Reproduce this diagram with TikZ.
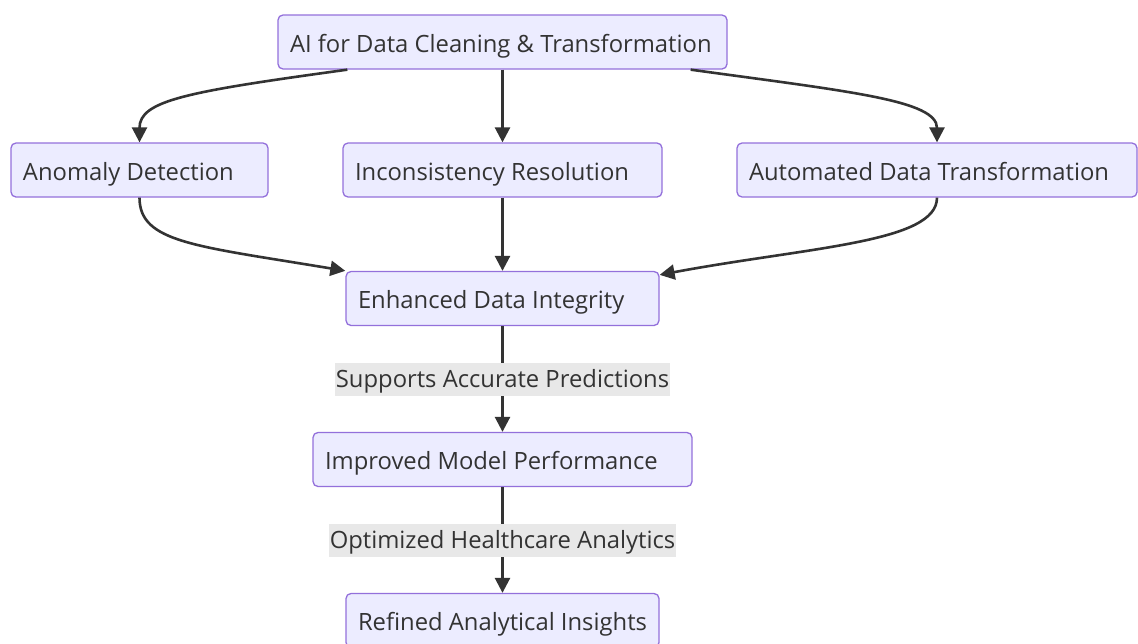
\documentclass[tikz,border=0pt]{standalone}
\usepackage{fontspec}
\setmainfont{Open Sans}
\usetikzlibrary{arrows.meta,calc}
\definecolor{nodefill}{HTML}{ECECFF}
\definecolor{nodeborder}{HTML}{9370DB}
\definecolor{ink}{HTML}{333333}
\definecolor{lblbg}{HTML}{E8E8E8}
\newcommand{\lefttext}[2]{\makebox[#1][l]{#2}}
\tikzset{
  box/.style={draw=nodeborder, fill=nodefill, line width=1.3pt, rounded corners=5pt,
    minimum height=54pt, inner xsep=12pt, inner ysep=0pt,
    text height=21pt, text depth=1pt,
    font=\fontsize{23.8}{28}\selectfont, text=ink},
  arr/.style={draw=ink, line width=2.6pt, -{Triangle[length=15pt,width=15pt]}},
  lbl/.style={fill=lblbg, inner xsep=1pt, inner ysep=5pt, text height=20pt, text depth=3pt,
    font=\fontsize{23.8}{28}\selectfont, text=ink}
}
\begin{document}
\begin{tikzpicture}[x=1pt,y=-1pt]
\useasboundingbox (0,0) rectangle (1138,643);
\node[box] (top) at (502.5,42) {\lefttext{425pt}{AI for Data Cleaning \& Transformation}};
\node[box] (anom) at (139.5,170) {\lefttext{233pt}{Anomaly Detection}};
\node[box] (inc) at (502.5,170) {\lefttext{295pt}{Inconsistency Resolution}};
\node[box] (auto) at (937,170) {\lefttext{376pt}{Automated Data Transformation}};
\node[box] (enh) at (502.5,298.5) {\lefttext{289pt}{Enhanced Data Integrity}};
\node[box] (imp) at (502.5,459.5) {\lefttext{355pt}{Improved Model Performance}};
\node[box] (ref) at (502.5,620.5) {\lefttext{289pt}{Refined Analytical Insights}};

\draw[arr] ($(top.south west)+(70,0)$) .. controls +(-160,22) and +(0,-42) .. (anom.north);
\draw[arr] (top.south) -- (inc.north);
\draw[arr] ($(top.south east)+(-37,0)$) .. controls +(160,22) and +(0,-42) .. (auto.north);
\draw[arr] (anom.south) .. controls +(0,45) and +(-150,-25) .. (enh.north west);
\draw[arr] (inc.south) -- (enh.north);
\draw[arr] (auto.south) .. controls +(0,45) and +(150,-28) .. ($(enh.north east)+(0,4)$);
\draw[arr] (enh.south) -- node[lbl] {Supports Accurate Predictions} (imp.north);
\draw[arr] (imp.south) -- node[lbl] {Optimized Healthcare Analytics} (ref.north);
\end{tikzpicture}
\end{document}
